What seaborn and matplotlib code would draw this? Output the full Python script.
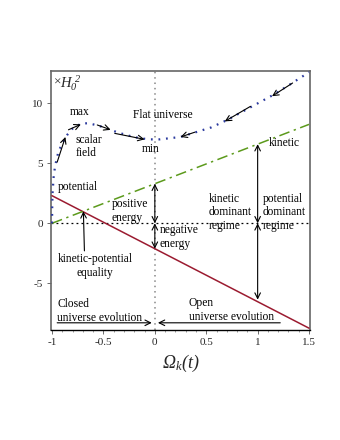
import numpy as np
import pandas as pd
import matplotlib
matplotlib.use("Agg")
import matplotlib.pyplot as plt
from matplotlib.ticker import MultipleLocator
import seaborn as sns

# ---- data ----
omega_potential = [-1.0, 1.5]
potential = [2.3, -8.75]

omega_kinetic = [-1.0, 1.5]
kinetic = [0.0, 8.25]

omega_flat = [-1.0, -0.998, -0.995, -0.985, -0.97, -0.94, -0.9, -0.85, -0.8, -0.72,
              -0.65, -0.55, -0.45, -0.35, -0.25, -0.15, -0.05, 0.05, 0.15, 0.25,
              0.4, 0.55, 0.7, 0.85, 1.0, 1.15, 1.3, 1.5]
flat_total = [0.0, 1.5, 2.5, 3.8, 4.8, 5.9, 6.7, 7.4, 7.9, 8.3,
              8.35, 8.15, 7.85, 7.55, 7.3, 7.1, 7.0, 7.0, 7.1, 7.2,
              7.6, 8.0, 8.6, 9.3, 10.0, 10.7, 11.5, 12.6]

x_ticks = [-1, -0.5, 0, 0.5, 1, 1.5]
x_tick_labels = ["-1", "-0.5", "0", "0.5", "1", "1.5"]
y_ticks = [-5, 0, 5, 10]
y_tick_labels = ["-5", "0", "5", "10"]

sns.set_theme(style="ticks")
plt.rcParams["font.family"] = ["Liberation Serif", "DejaVu Serif"]
plt.rcParams["mathtext.fontset"] = "custom"
plt.rcParams["mathtext.rm"] = "Liberation Serif:italic"
plt.rcParams["mathtext.it"] = "Liberation Serif:italic"
plt.rcParams["mathtext.bf"] = "Liberation Serif:bold"
plt.rcParams["axes.unicode_minus"] = False

fig = plt.figure(figsize=(3.4, 4.4), dpi=100)
ax = fig.add_axes([0.15, 0.25, 0.762, 0.5886])

df_pot = pd.DataFrame({"x": omega_potential, "y": potential})
df_kin = pd.DataFrame({"x": omega_kinetic, "y": kinetic})
df_flat = pd.DataFrame({"x": omega_flat, "y": flat_total})

ax.axhline(0, color="black", lw=0.9, ls=(0, (1.5, 2.5)), zorder=1)
ax.axvline(0, color="#888888", lw=1.1, ls=(0, (1, 2.5)), zorder=1)

sns.lineplot(data=df_pot, x="x", y="y", ax=ax, color="#9b1b30", lw=1.1, zorder=3)
sns.lineplot(data=df_kin, x="x", y="y", ax=ax, color="#5c9a1c", lw=1.1,
             linestyle=(0, (7, 3, 1.5, 3)), zorder=3)
sns.lineplot(data=df_flat, x="x", y="y", ax=ax, color="#2b3a9e", lw=1.6,
             linestyle=(0, (0.8, 2.6)), zorder=3)

ax.set_xlim(-1.01, 1.51)
ax.set_ylim(-8.9, 12.7)
ax.set_xticks(x_ticks)
ax.set_xticklabels(x_tick_labels)
ax.set_yticks(y_ticks)
ax.set_yticklabels(y_tick_labels)
ax.xaxis.set_minor_locator(MultipleLocator(0.1))
ax.tick_params(axis="both", which="major", labelsize=8, length=3, width=0.6,
               color="#555555", pad=3)
ax.tick_params(axis="x", which="minor", length=1.5, width=0.5, color="#777777")
for lab in ax.get_xticklabels() + ax.get_yticklabels():
    lab.set_family(["Liberation Serif"])
ax.set_xlabel(r"$\Omega_k(t)$", fontsize=13, labelpad=4)
ax.set_ylabel("")
for s in ["left", "top", "right"]:
    ax.spines[s].set_color("#666666")
    ax.spines[s].set_linewidth(1.2)
ax.spines["bottom"].set_color("black")
ax.spines["bottom"].set_linewidth(1.0)

fs = 8.3
tk = dict(fontsize=fs, color="black", linespacing=1.2)
ax.text(-0.985, 11.7, "\u00d7", fontsize=9.5, ha="left", va="center")
ax.text(-0.92, 11.7, r"$H_0^{\ 2}$", fontsize=10.5, ha="left", va="center")
ax.text(-0.73, 9.25, "max", ha="center", va="center", **tk)
ax.text(-0.77, 6.4, "scalar\nfield", ha="left", va="center", **tk)
ax.text(-0.21, 9.0, "Flat universe", ha="left", va="center", **tk)
ax.text(-0.04, 6.2, "min", ha="center", va="center", **tk)
ax.text(-0.94, 3.0, "potential", ha="left", va="center", **tk)
ax.text(1.11, 6.7, "kinetic", ha="left", va="center", **tk)
ax.text(-0.42, 1.05, "positive\nenergy", ha="left", va="center", **tk)
ax.text(0.05, -1.15, "negative\nenergy", ha="left", va="center", **tk)
ax.text(-0.58, -3.55, "kinetic-potential\nequality", ha="center", va="center",
        multialignment="center", **tk)
ax.text(0.52, 0.9, "kinetic\ndominant\nregime", ha="left", va="center", **tk)
ax.text(1.05, 0.9, "potential\ndominant\nregime", ha="left", va="center", **tk)
ax.text(-0.95, -7.3, "Closed\nuniverse evolution", ha="left", va="center", **tk)
ax.text(0.33, -7.2, "Open\nuniverse evolution", ha="left", va="center", **tk)

ap = dict(arrowstyle="->", lw=0.8, color="black", shrinkA=0, shrinkB=0,
          mutation_scale=10)
ap2 = dict(arrowstyle="<->", lw=0.8, color="black", shrinkA=0, shrinkB=0,
           mutation_scale=10)

def arrow(x0, y0, x1, y1, style=ap):
    ax.annotate("", xy=(x1, y1), xytext=(x0, y0), arrowprops=style, zorder=4)

# arrows along the scalar-field curve
arrow(-0.95, 5.1, -0.87, 7.2)
arrow(-0.84, 7.8, -0.72, 8.25)
arrow(-0.56, 8.2, -0.43, 7.8)
arrow(-0.39, 7.5, -0.1, 7.0)
arrow(1.34, 11.7, 1.14, 10.6)
arrow(0.93, 9.75, 0.68, 8.5)
arrow(0.39, 7.6, 0.25, 7.2)

# energy arrows
arrow(0, 0, 0, 3.3, ap2)
arrow(0, 0, 0, -2.12, ap2)
arrow(1, 0, 1, 6.6, ap2)
arrow(1, 0, 1, -6.37, ap2)

# equality arrow
arrow(-0.685, -2.3, -0.695, 1.0)

# evolution arrows
arrow(-0.95, -8.3, -0.03, -8.3)
arrow(1.22, -8.3, 0.03, -8.3)

fig.savefig("out.png", dpi=100)
